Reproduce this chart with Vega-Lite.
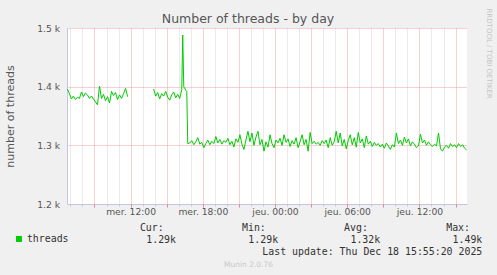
{
  "$schema": "https://vega.github.io/schema/vega-lite/v6.json",
  "width": 400,
  "height": 176,
  "autosize": {"type": "none"},
  "padding": {"left": 67, "top": 28, "right": 30, "bottom": 71},
  "background": "#f0f0f0",
  "config": {"view": {"stroke": null, "fill": "white"}},
  "title": {"text": "Number of threads - by day", "font": "DejaVu Sans", "fontSize": 12.5, "fontWeight": "normal", "color": "#555555", "anchor": "middle", "frame": "group", "dx": -19, "dy": 31, "offset": 4, "baseline": "alphabetic"},
  "datasets": {
    "threads": [
      {"t": "2025-12-17T06:45", "v": 1396}, {"t": "2025-12-17T06:55", "v": 1388}, {"t": "2025-12-17T07:05", "v": 1379},
      {"t": "2025-12-17T07:15", "v": 1384}, {"t": "2025-12-17T07:25", "v": 1378}, {"t": "2025-12-17T07:35", "v": 1382},
      {"t": "2025-12-17T07:45", "v": 1380}, {"t": "2025-12-17T07:55", "v": 1391}, {"t": "2025-12-17T08:05", "v": 1383},
      {"t": "2025-12-17T08:15", "v": 1389}, {"t": "2025-12-17T08:25", "v": 1386}, {"t": "2025-12-17T08:35", "v": 1380},
      {"t": "2025-12-17T08:45", "v": 1384}, {"t": "2025-12-17T08:55", "v": 1379}, {"t": "2025-12-17T09:05", "v": 1374},
      {"t": "2025-12-17T09:15", "v": 1369}, {"t": "2025-12-17T09:25", "v": 1401}, {"t": "2025-12-17T09:35", "v": 1380},
      {"t": "2025-12-17T09:45", "v": 1387}, {"t": "2025-12-17T09:55", "v": 1376}, {"t": "2025-12-17T10:05", "v": 1383},
      {"t": "2025-12-17T10:15", "v": 1372}, {"t": "2025-12-17T10:25", "v": 1392}, {"t": "2025-12-17T10:35", "v": 1385},
      {"t": "2025-12-17T10:45", "v": 1390}, {"t": "2025-12-17T10:55", "v": 1378}, {"t": "2025-12-17T11:05", "v": 1386},
      {"t": "2025-12-17T11:15", "v": 1380}, {"t": "2025-12-17T11:25", "v": 1388}, {"t": "2025-12-17T11:35", "v": 1397},
      {"t": "2025-12-17T11:45", "v": 1383},
      {"t": "2025-12-17T12:50", "v": null},
      {"t": "2025-12-17T13:55", "v": 1396}, {"t": "2025-12-17T14:05", "v": 1384}, {"t": "2025-12-17T14:15", "v": 1390},
      {"t": "2025-12-17T14:25", "v": 1379}, {"t": "2025-12-17T14:35", "v": 1388}, {"t": "2025-12-17T14:45", "v": 1384},
      {"t": "2025-12-17T14:55", "v": 1392}, {"t": "2025-12-17T15:05", "v": 1382}, {"t": "2025-12-17T15:15", "v": 1377},
      {"t": "2025-12-17T15:25", "v": 1386}, {"t": "2025-12-17T15:35", "v": 1391}, {"t": "2025-12-17T15:45", "v": 1381},
      {"t": "2025-12-17T15:55", "v": 1387}, {"t": "2025-12-17T16:05", "v": 1380}, {"t": "2025-12-17T16:15", "v": 1395},
      {"t": "2025-12-17T16:20", "v": 1488}, {"t": "2025-12-17T16:25", "v": 1400}, {"t": "2025-12-17T16:35", "v": 1394},
      {"t": "2025-12-17T16:40", "v": 1392}, {"t": "2025-12-17T16:45", "v": 1303},
      {"t": "2025-12-17T16:55", "v": 1304}, {"t": "2025-12-17T17:05", "v": 1308}, {"t": "2025-12-17T17:15", "v": 1301},
      {"t": "2025-12-17T17:25", "v": 1306}, {"t": "2025-12-17T17:35", "v": 1313}, {"t": "2025-12-17T17:45", "v": 1302},
      {"t": "2025-12-17T17:55", "v": 1305}, {"t": "2025-12-17T18:05", "v": 1296}, {"t": "2025-12-17T18:15", "v": 1303},
      {"t": "2025-12-17T18:25", "v": 1309}, {"t": "2025-12-17T18:35", "v": 1301}, {"t": "2025-12-17T18:45", "v": 1307},
      {"t": "2025-12-17T18:55", "v": 1303}, {"t": "2025-12-17T19:05", "v": 1315}, {"t": "2025-12-17T19:15", "v": 1304},
      {"t": "2025-12-17T19:25", "v": 1310}, {"t": "2025-12-17T19:35", "v": 1302}, {"t": "2025-12-17T19:45", "v": 1308},
      {"t": "2025-12-17T19:55", "v": 1305}, {"t": "2025-12-17T20:05", "v": 1312}, {"t": "2025-12-17T20:15", "v": 1301},
      {"t": "2025-12-17T20:25", "v": 1307}, {"t": "2025-12-17T20:35", "v": 1297}, {"t": "2025-12-17T20:45", "v": 1311},
      {"t": "2025-12-17T20:55", "v": 1305}, {"t": "2025-12-17T21:05", "v": 1318}, {"t": "2025-12-17T21:15", "v": 1302},
      {"t": "2025-12-17T21:25", "v": 1293}, {"t": "2025-12-17T21:35", "v": 1309}, {"t": "2025-12-17T21:45", "v": 1324},
      {"t": "2025-12-17T21:55", "v": 1306}, {"t": "2025-12-17T22:05", "v": 1321}, {"t": "2025-12-17T22:15", "v": 1300},
      {"t": "2025-12-17T22:25", "v": 1314}, {"t": "2025-12-17T22:35", "v": 1324}, {"t": "2025-12-17T22:45", "v": 1301},
      {"t": "2025-12-17T22:55", "v": 1310}, {"t": "2025-12-17T23:05", "v": 1290}, {"t": "2025-12-17T23:15", "v": 1306},
      {"t": "2025-12-17T23:25", "v": 1297}, {"t": "2025-12-17T23:35", "v": 1318}, {"t": "2025-12-17T23:45", "v": 1303},
      {"t": "2025-12-17T23:55", "v": 1296}, {"t": "2025-12-18T00:05", "v": 1309}, {"t": "2025-12-18T00:15", "v": 1304},
      {"t": "2025-12-18T00:25", "v": 1312}, {"t": "2025-12-18T00:35", "v": 1300}, {"t": "2025-12-18T00:45", "v": 1318},
      {"t": "2025-12-18T00:55", "v": 1305}, {"t": "2025-12-18T01:05", "v": 1311}, {"t": "2025-12-18T01:15", "v": 1298},
      {"t": "2025-12-18T01:25", "v": 1308}, {"t": "2025-12-18T01:35", "v": 1302}, {"t": "2025-12-18T01:45", "v": 1313},
      {"t": "2025-12-18T01:55", "v": 1296}, {"t": "2025-12-18T02:05", "v": 1306}, {"t": "2025-12-18T02:15", "v": 1318},
      {"t": "2025-12-18T02:25", "v": 1301}, {"t": "2025-12-18T02:35", "v": 1310}, {"t": "2025-12-18T02:45", "v": 1290},
      {"t": "2025-12-18T02:55", "v": 1322}, {"t": "2025-12-18T03:05", "v": 1303}, {"t": "2025-12-18T03:15", "v": 1307},
      {"t": "2025-12-18T03:25", "v": 1302}, {"t": "2025-12-18T03:35", "v": 1305}, {"t": "2025-12-18T03:45", "v": 1300},
      {"t": "2025-12-18T03:55", "v": 1308}, {"t": "2025-12-18T04:05", "v": 1303}, {"t": "2025-12-18T04:15", "v": 1309},
      {"t": "2025-12-18T04:25", "v": 1296}, {"t": "2025-12-18T04:35", "v": 1313}, {"t": "2025-12-18T04:45", "v": 1300},
      {"t": "2025-12-18T04:55", "v": 1306}, {"t": "2025-12-18T05:05", "v": 1324}, {"t": "2025-12-18T05:15", "v": 1304},
      {"t": "2025-12-18T05:25", "v": 1321}, {"t": "2025-12-18T05:35", "v": 1299}, {"t": "2025-12-18T05:45", "v": 1310},
      {"t": "2025-12-18T05:55", "v": 1294}, {"t": "2025-12-18T06:05", "v": 1308}, {"t": "2025-12-18T06:15", "v": 1318},
      {"t": "2025-12-18T06:25", "v": 1301}, {"t": "2025-12-18T06:35", "v": 1313}, {"t": "2025-12-18T06:45", "v": 1297},
      {"t": "2025-12-18T06:55", "v": 1322}, {"t": "2025-12-18T07:05", "v": 1304}, {"t": "2025-12-18T07:15", "v": 1311},
      {"t": "2025-12-18T07:25", "v": 1296}, {"t": "2025-12-18T07:35", "v": 1316}, {"t": "2025-12-18T07:45", "v": 1302},
      {"t": "2025-12-18T07:55", "v": 1307}, {"t": "2025-12-18T08:05", "v": 1298}, {"t": "2025-12-18T08:15", "v": 1305},
      {"t": "2025-12-18T08:25", "v": 1300}, {"t": "2025-12-18T08:35", "v": 1303}, {"t": "2025-12-18T08:45", "v": 1297},
      {"t": "2025-12-18T08:55", "v": 1302}, {"t": "2025-12-18T09:05", "v": 1295}, {"t": "2025-12-18T09:15", "v": 1304},
      {"t": "2025-12-18T09:25", "v": 1299}, {"t": "2025-12-18T09:35", "v": 1293}, {"t": "2025-12-18T09:45", "v": 1301},
      {"t": "2025-12-18T09:55", "v": 1297}, {"t": "2025-12-18T10:05", "v": 1321}, {"t": "2025-12-18T10:15", "v": 1303},
      {"t": "2025-12-18T10:25", "v": 1309}, {"t": "2025-12-18T10:35", "v": 1300}, {"t": "2025-12-18T10:45", "v": 1314},
      {"t": "2025-12-18T10:55", "v": 1304}, {"t": "2025-12-18T11:05", "v": 1311}, {"t": "2025-12-18T11:15", "v": 1299},
      {"t": "2025-12-18T11:25", "v": 1306}, {"t": "2025-12-18T11:35", "v": 1302}, {"t": "2025-12-18T11:45", "v": 1296},
      {"t": "2025-12-18T11:55", "v": 1299}, {"t": "2025-12-18T12:05", "v": 1319}, {"t": "2025-12-18T12:15", "v": 1304},
      {"t": "2025-12-18T12:25", "v": 1309}, {"t": "2025-12-18T12:35", "v": 1300}, {"t": "2025-12-18T12:45", "v": 1306},
      {"t": "2025-12-18T12:55", "v": 1301}, {"t": "2025-12-18T13:05", "v": 1298}, {"t": "2025-12-18T13:15", "v": 1302},
      {"t": "2025-12-18T13:25", "v": 1299}, {"t": "2025-12-18T13:35", "v": 1321}, {"t": "2025-12-18T13:45", "v": 1294},
      {"t": "2025-12-18T13:55", "v": 1290}, {"t": "2025-12-18T14:05", "v": 1297}, {"t": "2025-12-18T14:15", "v": 1300},
      {"t": "2025-12-18T14:25", "v": 1295}, {"t": "2025-12-18T14:35", "v": 1303}, {"t": "2025-12-18T14:45", "v": 1298},
      {"t": "2025-12-18T14:55", "v": 1301}, {"t": "2025-12-18T15:05", "v": 1296}, {"t": "2025-12-18T15:15", "v": 1303},
      {"t": "2025-12-18T15:25", "v": 1298}, {"t": "2025-12-18T15:35", "v": 1301}, {"t": "2025-12-18T15:45", "v": 1295},
      {"t": "2025-12-18T15:55", "v": 1292}
    ],
    "stats": [
      {"stat": "Cur:", "value": 1290},
      {"stat": "Min:", "value": 1290},
      {"stat": "Avg:", "value": 1320},
      {"stat": "Max:", "value": 1490}
    ]
  },
  "layer": [
    {
      "data": {"name": "threads"},
      "layer": [
        {
          "mark": {"type": "line", "strokeWidth": 1, "interpolate": "linear"},
          "encoding": {
            "x": {
              "field": "t", "type": "temporal",
              "scale": {"domain": [{"year": 2025, "month": 12, "date": 17, "hours": 6, "minutes": 43}, {"year": 2025, "month": 12, "date": 18, "hours": 15, "minutes": 57}]},
              "axis": {
                "orient": "bottom", "title": null, "labels": false,
                "tickCount": {"interval": "hours", "step": 1},
                "grid": true, "gridDash": [1, 1], "gridWidth": 1,
                "gridColor": {"condition": {"test": "hours(datum.value) % 3 == 0", "value": "transparent"}, "value": "#d4d4d4"},
                "ticks": true, "tickSize": 2, "tickWidth": 1,
                "tickColor": {"condition": {"test": "hours(datum.value) % 3 == 0", "value": "transparent"}, "value": "#c8c8c8"},
                "domain": true, "domainColor": "#c4c4e4", "domainWidth": 1
              }
            },
            "y": {
              "field": "v", "type": "quantitative",
              "scale": {"domain": [1200, 1500], "nice": false, "zero": false},
              "axis": {
                "orient": "left", "values": [1200, 1300, 1400, 1500],
                "grid": true, "gridDash": [1, 1], "gridWidth": 1,
                "gridColor": {"condition": {"test": "datum.value == 1200", "value": "transparent"}, "value": "#eea0a0"},
                "ticks": false, "domain": true, "domainColor": "#c4c4e4", "domainWidth": 1,
                "labelExpr": "format(datum.value / 1000, '.1f') + ' k'",
                "labelFont": "DejaVu Sans", "labelFontSize": 9.2, "labelColor": "#555555", "labelPadding": 7.5,
                "title": "number of threads", "titleFont": "DejaVu Sans", "titleFontSize": 11, "titleFontWeight": "normal",
                "titleColor": "#555555", "titleX": -57, "titleY": 88, "titleAngle": 270, "titleAlign": "center", "titleBaseline": "middle"
              }
            },
            "color": {
              "datum": "threads", "type": "nominal",
              "scale": {"range": ["#00cc00"]},
              "legend": {
                "orient": "none", "legendX": -53, "legendY": 206, "title": null, "padding": 0,
                "symbolType": "square", "symbolSize": 36, "symbolFillColor": "#00cc00", "symbolStrokeColor": "#00cc00", "symbolStrokeWidth": 0,
                "labelFont": "DejaVu Sans Mono", "labelFontSize": 9.9, "labelColor": "#333333", "labelOffset": 3
              }
            }
          }
        },
        {
          "transform": [{"filter": "false"}],
          "mark": {"type": "line"},
          "encoding": {
            "x": {
              "field": "t", "type": "temporal",
              "axis": {
                "orient": "bottom", "title": null, "labels": false,
                "tickCount": {"interval": "hours", "step": 3},
                "grid": true, "gridDash": [1, 1], "gridWidth": 1, "gridColor": "#eea0a0",
                "ticks": true, "tickSize": 3, "tickWidth": 1, "tickColor": "#e08888",
                "domain": false
              }
            },
            "y": {
              "field": "v", "type": "quantitative",
              "axis": {
                "orient": "right", "labels": false, "ticks": false, "domain": false, "grid": false,
                "title": "RRDTOOL / TOBI OETIKER", "titleFont": "DejaVu Sans", "titleFontSize": 7, "titleFontWeight": "normal",
                "titleColor": "#c4c4c4", "titleAngle": 90, "titleX": 21, "titleY": -20, "titleAlign": "left", "titleBaseline": "middle"
              }
            }
          }
        },
        {
          "transform": [{"filter": "false"}],
          "mark": {"type": "line"},
          "encoding": {
            "x": {
              "field": "t", "type": "temporal",
              "axis": {
                "orient": "bottom",
                "tickCount": {"interval": "hours", "step": 6},
                "grid": false, "ticks": false, "domain": false,
                "labelExpr": "['dim.','lun.','mar.','mer.','jeu.','ven.','sam.'][day(datum.value)] + ' ' + timeFormat(datum.value, '%H:%M')",
                "labelFont": "DejaVu Sans", "labelFontSize": 9.2, "labelColor": "#555555", "labelPadding": 3,
                "labelOverlap": false, "labelFlush": false,
                "title": "Munin 2.0.76", "titleFont": "DejaVu Sans", "titleFontSize": 7.5, "titleFontWeight": "normal",
                "titleColor": "#c8c8c8", "titleX": 181, "titleY": 60, "titleAlign": "center", "titleBaseline": "middle"
              }
            },
            "y": {"field": "v", "type": "quantitative", "axis": null}
          }
        }
      ],
      "resolve": {"axis": {"x": "independent", "y": "independent"}}
    },
    {
      "data": {"name": "stats"},
      "layer": [
        {
          "mark": {"type": "text", "align": "right", "baseline": "middle", "font": "DejaVu Sans Mono", "fontSize": 9.9, "color": "#333333", "dx": -12.3},
          "encoding": {
            "x": {"field": "stat", "type": "nominal", "scale": {"type": "point", "domain": ["Cur:", "Min:", "Avg:", "Max:"], "range": [109, 415.3], "padding": 0}, "axis": null},
            "y": {"datum": "head", "type": "nominal", "scale": {"type": "point", "domain": ["head", "val", "upd"], "range": [200.3, 223.7], "padding": 0}, "axis": null},
            "text": {"field": "stat"}
          }
        },
        {
          "mark": {"type": "text", "align": "right", "baseline": "middle", "font": "DejaVu Sans Mono", "fontSize": 9.9, "color": "#333333"},
          "encoding": {
            "x": {"field": "stat", "type": "nominal"},
            "y": {"datum": "val", "type": "nominal"},
            "text": {"field": "value", "format": ".3s"}
          }
        },
        {
          "transform": [{"filter": "datum.stat == 'Max:'"}],
          "mark": {"type": "text", "align": "right", "baseline": "middle", "font": "DejaVu Sans Mono", "fontSize": 9.9, "color": "#333333", "text": "Last update: Thu Dec 18 15:55:20 2025"},
          "encoding": {
            "x": {"field": "stat", "type": "nominal"},
            "y": {"datum": "upd", "type": "nominal"}
          }
        }
      ]
    }
  ],
  "resolve": {"scale": {"x": "independent", "y": "independent"}}
}
